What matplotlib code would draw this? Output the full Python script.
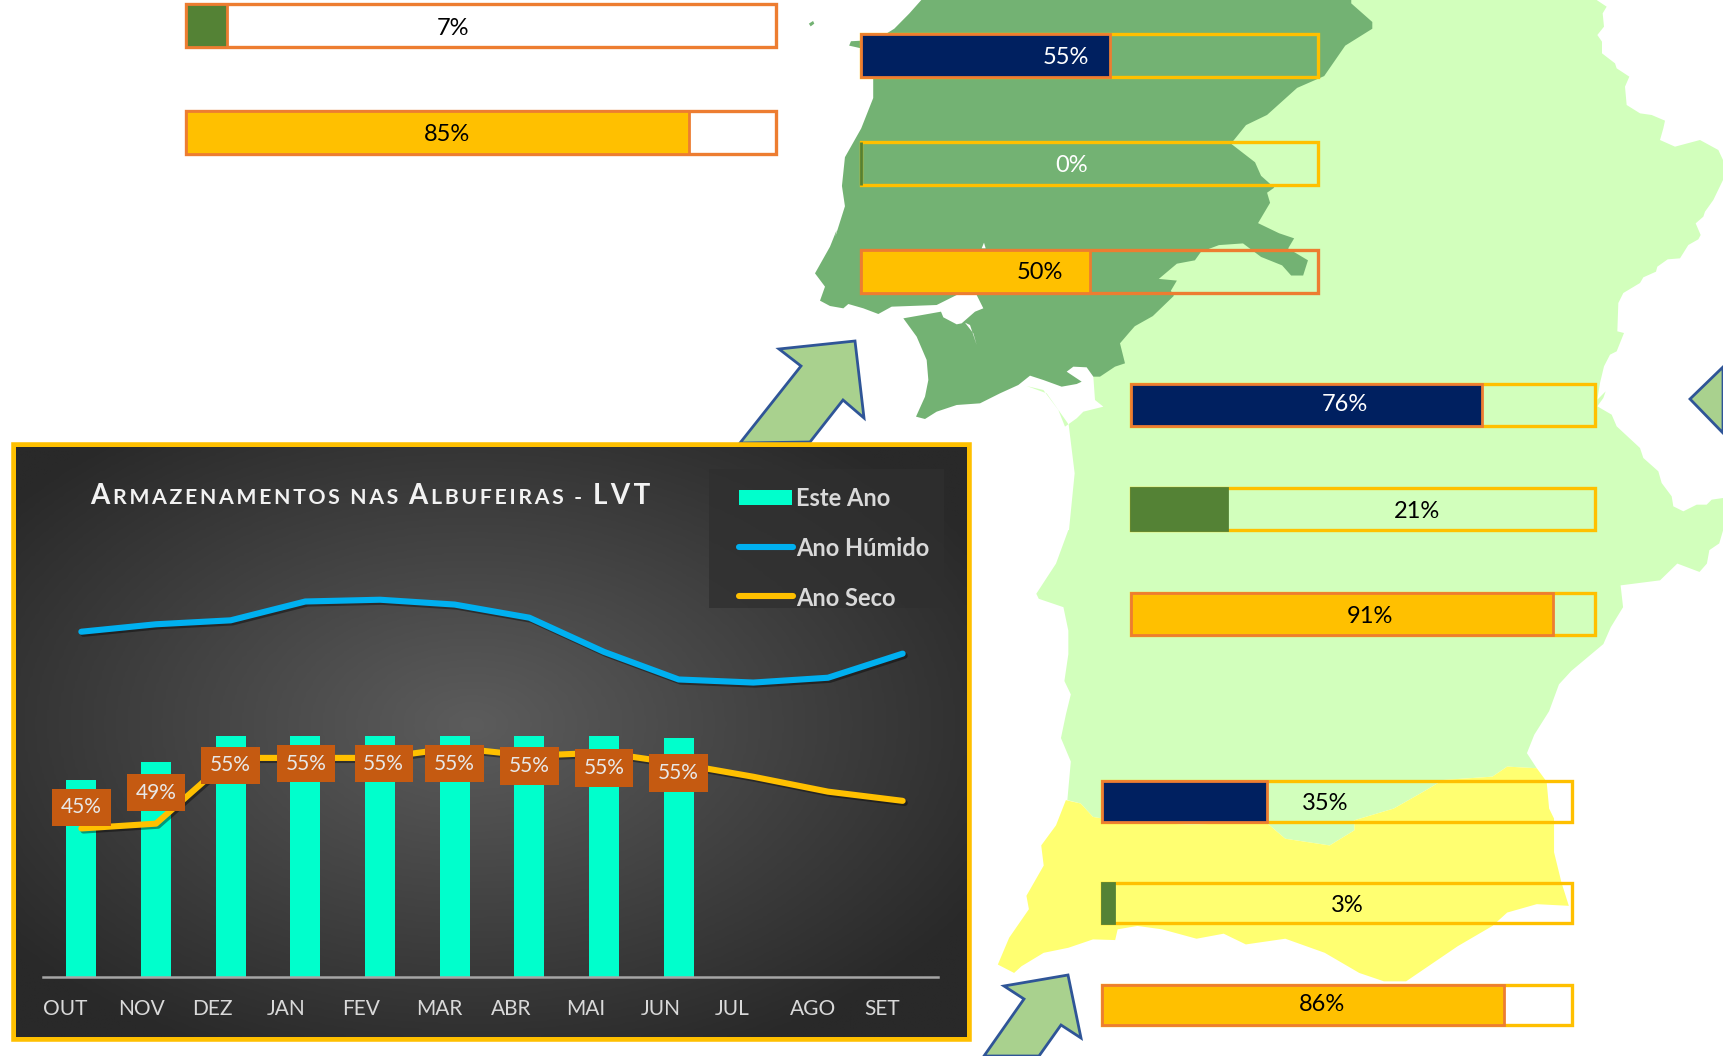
import numpy as np
import matplotlib
matplotlib.use("Agg")
import matplotlib.pyplot as plt
from matplotlib.colors import LinearSegmentedColormap
from matplotlib.patches import Polygon, Rectangle
import matplotlib.patheffects as pe

W, H = 1723, 1056
plt.rcParams['font.family'] = ['Lato', 'DejaVu Sans']

# chart data
months = ['OUT', 'NOV', 'DEZ', 'JAN', 'FEV', 'MAR', 'ABR', 'MAI', 'JUN', 'JUL', 'AGO', 'SET']
este_ano = [45, 49, 55, 55, 55, 55, 55, 55, 54.6]
ano_humido = [78.8, 80.5, 81.4, 85.7, 86.1, 85.0, 82.0, 74.2, 67.9, 67.2, 68.3, 73.8]
ano_seco = [33.9, 35.0, 50.0, 50.0, 50.0, 52.3, 50.5, 51.2, 48.7, 45.7, 42.3, 40.2]
bar_labels = ['45%', '49%', '55%', '55%', '55%', '55%', '55%', '55%', '55%']
label_heights = [38.7, 42.1, 48.3, 48.7, 48.7, 48.7, 48.1, 47.7, 46.5]
label_shift = [0, 0, 0, 0.01, 0.05, 0, 0, 0, 0]

# gauges, bar lengths
gauge_values = [7.0, 85.2, 54.5, 0, 50, 75.6, 20.6, 91, 35, 2.6, 85.6]
gauge_labels = ['7%', '85%', '55%', '0%', '50%', '76%', '21%', '91%', '35%', '3%', '86%']
gauge_fill = ['#548235', '#FFC000', '#002060', '#548235', '#FFC000', '#002060', '#548235', '#FFC000',
              '#002060', '#548235', '#FFC000']
fill_edge = ['#ED7D31', '#ED7D31', '#ED7D31', '#548235', '#ED7D31', '#ED7D31', '#548235', '#ED7D31',
             '#ED7D31', '#548235', '#ED7D31']
gauge_edge = ['#ED7D31', '#ED7D31', '#FFC000', '#FFC000', '#ED7D31', '#FFC000', '#FFC000', '#FFC000',
              '#FFC000', '#FFC000', '#FFC000']
gauge_text = ['black', 'black', 'white', 'white', 'black', 'white', 'black', 'black', 'black', 'black', 'black']
# left, right, top, bottom, label x, label y (pixels)
gauge_boxes = [(186, 776, 4, 47, 453, 27), (186, 776, 111, 154, 447, 133),
               (861, 1318, 34, 77, 1066, 56), (861, 1318, 142, 185, 1072, 164), (861, 1318, 250, 293, 1040, 271),
               (1131, 1595, 384, 426, 1345, 403), (1131, 1595, 488, 530, 1417, 510), (1131, 1595, 593, 635, 1370, 615),
               (1102, 1572, 781, 822, 1325, 802), (1102, 1572, 883, 923, 1347, 904), (1102, 1572, 985, 1025, 1322, 1003)]

# map outlines, each list in the coordinates of its zoomed crop
lvt_north = [(235, 0), (215, 40), (190, 85), (160, 118), (118, 122), (115, 135), (135, 143), (155, 230), (155, 290),
             (135, 380), (108, 465), (103, 550), (108, 610), (92, 700)]
lvt_estuary = [(80, 0), (60, 50), (15, 130), (45, 170), (30, 212), (60, 228), (100, 235), (115, 222), (160, 235),
               (205, 252), (245, 230), (300, 228), (380, 225), (440, 195), (500, 195), (520, 235), (495, 245),
               (455, 280), (440, 283), (400, 262), (393, 245), (280, 265), (320, 320), (350, 390), (355, 450),
               (345, 500), (318, 560), (345, 567), (380, 545), (440, 525), (510, 520), (570, 490), (625, 465),
               (660, 437), (700, 450), (755, 470), (800, 462), (815, 455), (770, 425), (790, 410), (830, 412),
               (850, 440), (870, 440), (915, 410), (945, 400), (930, 340), (960, 305)]
lvt_east = [(590, 965), (620, 935), (655, 875), (650, 860), (660, 830), (630, 825),
            (660, 780), (690, 770), (700, 745), (730, 725), (770, 720), (800, 760), (835, 785), (850, 815), (870, 815),
            (878, 770), (845, 735), (855, 705), (830, 690), (795, 660), (815, 600), (810, 570), (822, 555), (800, 520),
            (790, 480), (750, 425), (775, 370), (810, 340), (860, 260), (905, 225), (940, 135), (985, 85), (985, 65),
            (950, 10), (950, 0)]
channel = [(465, 278), (480, 285), (500, 345), (490, 310)]
spike = [(515, 55), (522, 38), (527, 55)]
islet = [(48, 70), (55, 62), (57, 70), (51, 78)]
east_upper = [(470, 0), (500, 20), (488, 40), (492, 80), (472, 105), (486, 125), (486, 160), (525, 190), (530, 205),
              (568, 230), (555, 260), (560, 315), (600, 340), (635, 345), (675, 362), (670, 385), (660, 420),
              (705, 440), (780, 420), (835, 450), (849, 480), (849, 540), (820, 600), (795, 635), (790, 650),
              (767, 670), (782, 705), (775, 718), (745, 735), (720, 775), (683, 778), (652, 800), (648, 815),
              (610, 832), (600, 849)]
east_lower = [(550, 30), (535, 60), (532, 145), (552, 150), (530, 205), (510, 215), (492, 250), (480, 300), (472, 350),
              (497, 325), (490, 345), (472, 370), (515, 395), (530, 430), (600, 495), (610, 525), (655, 565),
              (665, 600), (695, 640), (700, 670), (730, 685), (770, 665), (800, 665), (815, 650), (849, 645)]
sado = [(780, 590), (770, 575), (710, 490), (650, 468), (700, 480), (745, 540), (765, 590), (800, 565), (820, 545),
        (880, 530), (930, 570), (855, 510), (850, 440), (900, 300), (900, 0)]
centre_west = [(490, 1400), (480, 1255)]
centre_south_zoom = [(240, 0), (215, 100), (175, 190), (180, 205), (230, 230), (240, 300), (240, 370), (232, 450),
                     (245, 490), (235, 550), (225, 620), (245, 690), (238, 805), (265, 815), (290, 855), (350, 870),
                     (490, 878), (640, 870), (680, 920), (770, 940), (820, 895), (820, 865), (900, 830), (960, 780),
                     (1000, 745), (1100, 735), (1130, 705), (1190, 710), (1170, 665), (1185, 610), (1215, 540),
                     (1235, 460), (1260, 420), (1325, 340), (1340, 290), (1365, 230), (1360, 165), (1440, 150),
                     (1475, 100), (1520, 125), (1535, 100), (1540, 60), (1560, 40), (1568, 0)]
algarve_zoom = [(235, 805), (215, 880), (185, 940), (190, 1000), (155, 1090), (160, 1130), (120, 1215), (97, 1295),
                (130, 1320), (145, 1300), (190, 1260), (240, 1245), (290, 1220), (335, 1222), (340, 1190), (380, 1180),
                (430, 1190), (500, 1218), (555, 1203), (600, 1235), (680, 1218), (760, 1260), (830, 1320), (880, 1345),
                (925, 1345), (1030, 1240), (1100, 1180), (1130, 1140), (1190, 1115), (1255, 1120), (1240, 1050),
                (1225, 960), (1225, 860), (1215, 830), (1210, 750), (1190, 710), (1130, 705), (1100, 735), (1000, 745),
                (960, 780), (900, 830), (820, 865), (820, 895), (770, 940), (680, 920), (640, 870), (490, 878),
                (350, 870), (290, 855), (265, 815)]

arrow_nw = [(740, 443), (801, 366), (779, 349), (855, 341), (864, 418), (843, 400), (810, 442)]
arrow_sw = [(984, 1056), (1024, 999), (1004, 986), (1068, 975), (1081, 1038), (1061, 1025), (1039, 1056)]
arrow_e = [(1723, 367), (1690, 399), (1723, 433)]


def crop(pts, x0, y0, sx, sy):
    p = np.array(pts, float)
    return np.column_stack([x0 + p[:, 0] / sx, y0 + p[:, 1] / sy])


def crop2(pts):
    return crop(pts, 780, 0, 1.663, 2.958)


def crop3(pts):
    return crop(pts, 950, 530, 2.028, 2.98)


def crop_est(pts):
    return crop(pts, 810, 230, 3, 3)


fig = plt.figure(figsize=(W / 100, H / 100), dpi=100, facecolor='white')

# page axes in pixels, y going down
page = fig.add_axes([0, 0, 1, 1])
page.axis('off')

# map
lvt = np.vstack([crop2(lvt_north), crop_est(lvt_estuary), crop2(lvt_east)])
centre = np.vstack([crop2([(700, 0)]), crop(east_upper, 1440, 0, 3, 3), crop(east_lower, 1440, 283, 3, 3),
                    [(W, 530), (1069, 530)], crop2(centre_west), crop_est(sado)])
page.add_patch(Polygon(centre, fc='#D2FFBC', ec='none', zorder=1))
page.add_patch(Polygon(crop3(centre_south_zoom), fc='#D2FFBC', ec='none', zorder=1))
page.add_patch(Polygon(crop3(algarve_zoom), fc='#FFFF71', ec='none', zorder=1.2))
page.add_patch(Polygon(lvt, fc='#73B273', ec='none', zorder=1.4))
page.add_patch(Polygon(crop_est(channel), fc='white', ec='none', zorder=1.5))
page.add_patch(Polygon(crop_est(spike), fc='white', ec='none', zorder=1.5))
page.add_patch(Polygon(crop2(islet), fc='#73B273', ec='none', zorder=1.4))

# arrows
for pts in (arrow_nw, arrow_sw, arrow_e):
    page.add_patch(Polygon(pts, fc='#A9D18E', ec='#2F5597', lw=2, zorder=2, joinstyle='miter'))

# gauges
for val, lab, fc, fe, ec, tc, box in zip(gauge_values, gauge_labels, gauge_fill, fill_edge, gauge_edge, gauge_text,
                                         gauge_boxes):
    x0, x1, y0, y1, tx, ty = box
    page.add_patch(Rectangle((x0, y0), x1 - x0, y1 - y0, fc='none', ec=ec, lw=2.4, zorder=3))
    page.barh((y0 + y1) / 2, val / 100 * (x1 - x0), height=y1 - y0, left=x0, color=fc, edgecolor=fe,
              linewidth=2, zorder=3.5)
    page.text(tx, ty + 1.5, lab, color=tc, fontsize=17, ha='center', va='center', zorder=4)

# chart panel with a radial glow
page.add_patch(Rectangle((14, 445), 955, 594, fc='#2a2a2a', ec='#FFC000', lw=4, zorder=5))
yy, xx = np.mgrid[0:1:200j, 0:1:200j]
glow = np.clip(np.hypot((xx - 0.48) / 0.62, (yy - 0.47) / 0.62), 0, 1)
page.imshow(glow, extent=(16, 967, 1037, 447), cmap=LinearSegmentedColormap.from_list('panel', ['#5c5c5c', '#292929']),
            vmin=0, vmax=1, zorder=5.1, aspect='auto')
page.set_xlim(0, W)
page.set_ylim(H, 0)
page.add_patch(Rectangle((709, 469), 235, 139, fc='#2f2f2f', ec='none', alpha=0.75, zorder=5.2))

# title in small caps, thin spaces give the letter spacing
title_runs = [('A', 20), ('RMAZENAMENTOS NAS ', 15.3), ('A', 20), ('LBUFEIRAS - ', 15.3), ('LVT', 20)]
x = 90
renderer = fig.canvas.get_renderer()
for run, size in title_runs:
    spaced = '\u2009'.join(run.replace(' ', '\u00a0')) + '\u2009'
    t = page.text(x, 504, spaced, color='#F2F2F2', fontsize=size, fontweight='bold', ha='left', va='baseline', zorder=7)
    x += t.get_window_extent(renderer).width

# chart axes: baseline at y=977
ax = fig.add_axes([44 / W, 1 - 977 / H, 896 / W, 528 / H], facecolor='none', zorder=8)
ax.set_xlim(-0.5, 11.5)
ax.set_ylim(0, 120.5)
shadow = [pe.SimpleLineShadow(offset=(1.5, -1.5), shadow_color='black', alpha=0.4), pe.Normal()]
pos = np.arange(len(months))
ax.bar(pos[:len(este_ano)], este_ano, width=0.4, color='#00FFCC', zorder=2)
ax.plot(pos, ano_humido, color='#00B0F0', lw=4.4, solid_capstyle='round', solid_joinstyle='round', zorder=3,
        path_effects=shadow)
ax.plot(pos, ano_seco, color='#FFC000', lw=4.4, solid_capstyle='round', solid_joinstyle='round', zorder=3,
        path_effects=shadow)
for i, (lab, h, dx) in enumerate(zip(bar_labels, label_heights, label_shift)):
    ax.text(i + dx, h, lab, color='#E8E8E8', fontsize=15, ha='center', va='center', zorder=4,
            bbox=dict(boxstyle='square,pad=0.42', fc='#C55A11', ec='none'))
for spine in ['top', 'left', 'right']:
    ax.spines[spine].set_visible(False)
ax.spines['bottom'].set_color('#A6A6A6')
ax.spines['bottom'].set_linewidth(1.8)
ax.spines['bottom'].set_bounds(-0.51, 11.47)
ax.set_yticks([])
ax.set_xticks([])
for i, m in enumerate(months):
    ax.annotate(m, xy=(i - 0.5, 0), xytext=(-1, -32), textcoords='offset pixels', color='#D9D9D9', fontsize=15,
                ha='left', va='center', annotation_clip=False)

# legend drawn by hand to sit where it does in the original
page.add_patch(Rectangle((739, 490), 53, 15, fc='#00FFCC', ec='none', zorder=7))
page.plot([739, 793], [547, 547], color='#00B0F0', lw=4.4, solid_capstyle='round', zorder=7)
page.plot([739, 793], [596, 596], color='#FFC000', lw=4.4, solid_capstyle='round', zorder=7)
page.set_xlim(0, W)
page.set_ylim(H, 0)
for label, y in zip(['Este Ano', 'Ano Húmido', 'Ano Seco'], [499, 548, 598]):
    page.text(796, y, label, color='#D9D9D9', fontsize=17, fontweight='bold', ha='left', va='center', zorder=7)

fig.savefig('out.png', dpi=100, facecolor='white')
